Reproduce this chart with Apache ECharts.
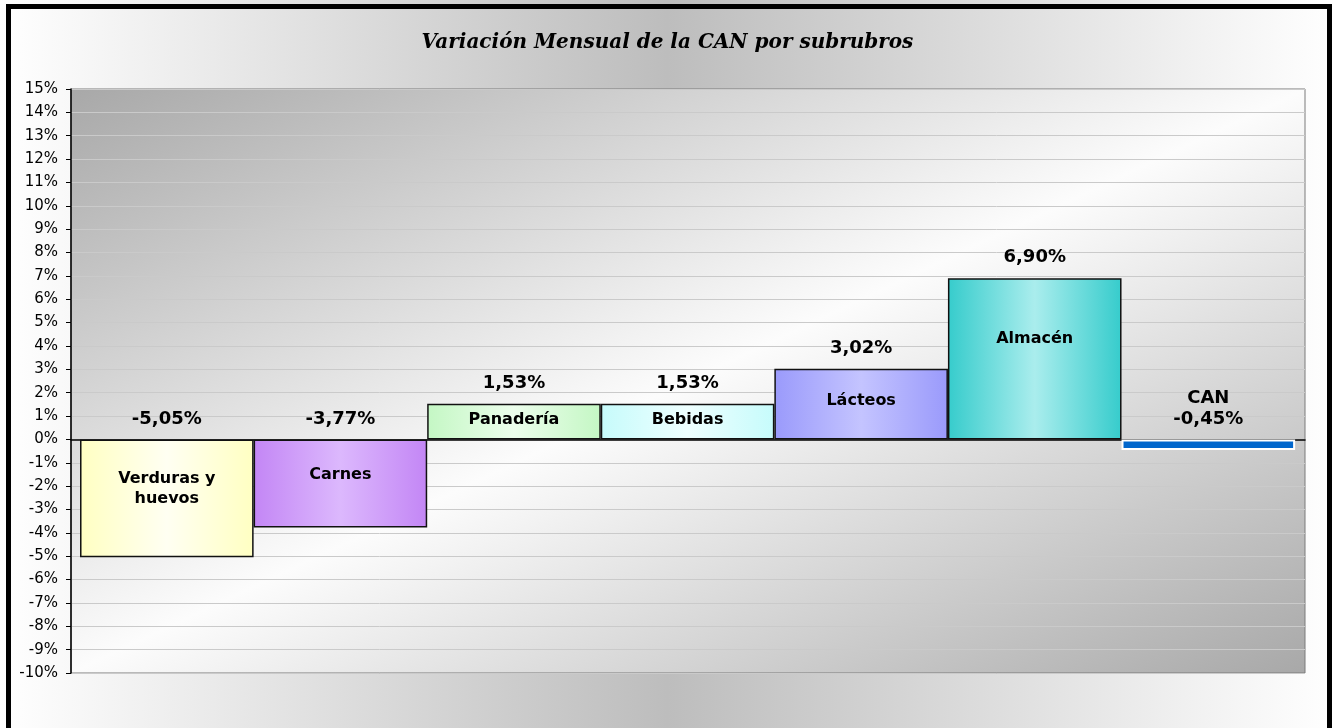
<!DOCTYPE html>
<html>
<head>
<meta charset="utf-8">
<script src="https://cdn.jsdelivr.net/npm/echarts@6/dist/echarts.min.js"></script>
<style>
  html, body { margin: 0; padding: 0; background: #fff; }
  #chart { width: 1335px; height: 728px; }
</style>
</head>
<body>
<div id="chart"></div>
<script>
// datos del gráfico
const categorias = ['Verduras y\nhuevos', 'Carnes', 'Panadería', 'Bebidas', 'Lácteos', 'Almacén', 'CAN'];
const variacion = [-5.05, -3.77, 1.53, 1.53, 3.02, 6.90, -0.45];
const yMin = -10;
const yMax = 15;

// estilos de cada barra (borde, centro del degradé)
const coloresBarra = [
  ['#ffffc2', '#fffff2'],
  ['#c386f5', '#dcb8fd'],
  ['#c4f7c4', '#ecfeec'],
  ['#c6fbfb', '#eeffff'],
  ['#9a9afb', '#c4c4ff'],
  ['#36cccc', '#aaeded'],
  ['#0066cc', '#0066cc']
];
const ajusteEtiqueta = [-10, -9, -2, -2, -3, -20, 0];

const chart = echarts.init(document.getElementById('chart'));

function fmt(v) {
  return v.toFixed(2).replace('.', ',') + '%';
}

const barras = variacion.map((v, i) => ({
  value: [i, v],
  itemStyle: {
    color: new echarts.graphic.LinearGradient(0, 0, 1, 0, [
      { offset: 0, color: coloresBarra[i][0] },
      { offset: 0.5, color: coloresBarra[i][1] },
      { offset: 1, color: coloresBarra[i][0] }
    ]),
    borderColor: Math.abs(v) < 1 ? '#ffffff' : '#111111',
    borderWidth: Math.abs(v) < 1 ? 2 : 1.5
  },
  label: {
    show: Math.abs(v) >= 1,
    offset: [0, ajusteEtiqueta[i]]
  }
}));

// barras invisibles para ubicar los valores sobre la barra o sobre el cero
const etiquetas = variacion.map((v, i) => ({
  value: [i, Math.max(v, 0)]
}));

const option = {
  backgroundColor: new echarts.graphic.LinearGradient(0, 0, 1, 0, [
    { offset: 0, color: '#ffffff' },
    { offset: 0.5, color: '#bdbdbd' },
    { offset: 1, color: '#ffffff' }
  ]),
  title: {
    text: 'Variación Mensual de la CAN por subrubros',
    left: 'center',
    top: 28,
    textStyle: {
      fontFamily: 'DejaVu Serif',
      fontStyle: 'italic',
      fontWeight: 'bold',
      fontSize: 20,
      color: '#000'
    }
  },
  graphic: [{
    type: 'rect',
    shape: { x: 8.5, y: 6.5, width: 1321, height: 800 },
    style: { fill: 'none', stroke: '#000', lineWidth: 5 },
    silent: true
  }],
  grid: {
    left: 71,
    right: 30,
    top: 89,
    bottom: 55,
    show: true,
    borderColor: '#7a7a7a',
    borderWidth: 1,
    backgroundColor: new echarts.graphic.LinearGradient(0, 0, 0.366, 1.634, [
      { offset: 0, color: '#a8a8a8' },
      { offset: 0.5, color: '#fcfcfc' },
      { offset: 1, color: '#a8a8a8' }
    ])
  },
  xAxis: {
    type: 'value',
    min: -0.552,
    max: 6.557,
    axisLine: { show: true, onZero: true, lineStyle: { color: '#000', width: 1.5 } },
    axisTick: { show: false },
    axisLabel: { show: false },
    splitLine: { show: false }
  },
  yAxis: {
    type: 'value',
    min: yMin,
    max: yMax,
    interval: 1,
    axisLine: { show: true, onZero: false, lineStyle: { color: '#000', width: 1.5 } },
    axisTick: { show: true, length: 5, lineStyle: { color: '#000' } },
    axisLabel: {
      formatter: v => v + '%',
      fontFamily: 'DejaVu Sans',
      fontSize: 15,
      color: '#000',
      margin: 13
    },
    splitLine: { show: true, lineStyle: { color: '#cacaca', width: 1 } }
  },
  series: [
    {
      type: 'bar',
      data: barras,
      barWidth: 173.6,
      barGap: '-100%',
      label: {
        position: 'inside',
        formatter: p => categorias[p.dataIndex],
        fontFamily: 'DejaVu Sans',
        fontWeight: 'bold',
        fontSize: 16,
        lineHeight: 20,
        color: '#000'
      }
    },
    {
      type: 'bar',
      data: etiquetas,
      barWidth: 173.6,
      barGap: '-100%',
      itemStyle: { color: 'rgba(0,0,0,0)' },
      label: {
        show: true,
        position: 'top',
        distance: 10,
        formatter: p => {
          const v = variacion[p.dataIndex];
          return Math.abs(v) < 1 ? categorias[p.dataIndex] + '\n' + fmt(v) : fmt(v);
        },
        fontFamily: 'DejaVu Sans',
        fontWeight: 'bold',
        fontSize: 18,
        lineHeight: 21,
        color: '#000'
      }
    }
  ]
};

chart.setOption(option);
</script>
</body>
</html>
